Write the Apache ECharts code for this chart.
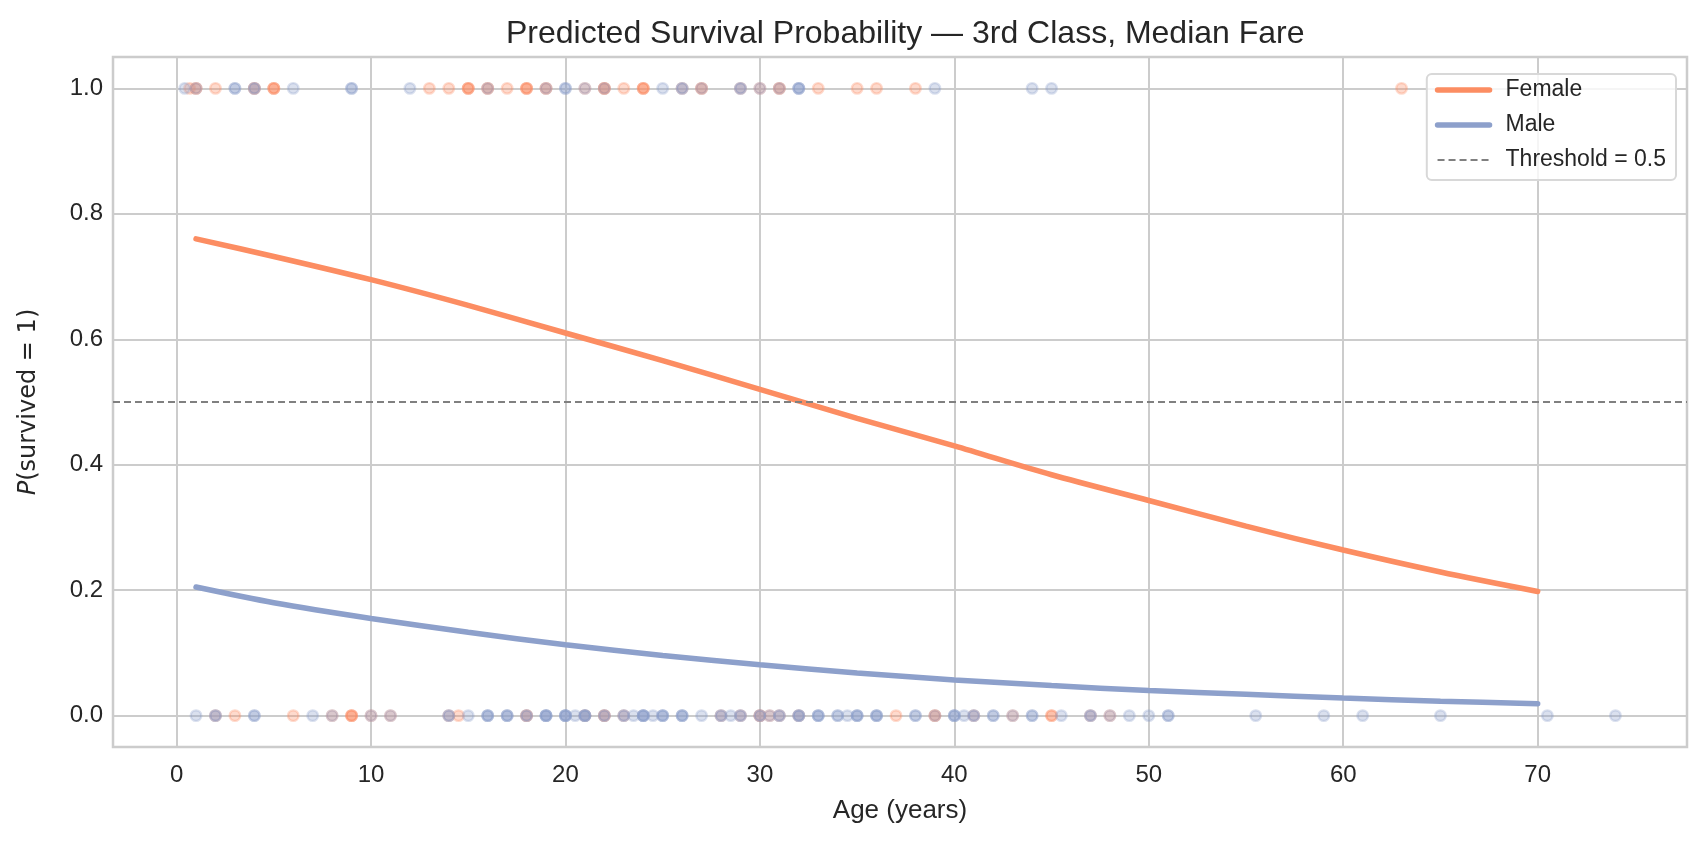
<!DOCTYPE html>
<html>
<head>
<meta charset="utf-8">
<title>Predicted Survival Probability</title>
<script src="https://cdn.jsdelivr.net/npm/echarts@6/dist/echarts.min.js"></script>
<style>
  html, body { margin: 0; padding: 0; background: #fff; }
  #chart { width: 1706px; height: 843px; }
</style>
</head>
<body>
<div id="chart"></div>
<script>
// observed passengers (3rd class), one entry per dot, repeated where dots stack
var femaleSurvivedAges = [0.67, 1, 1, 2, 4, 4, 5, 5, 5, 13, 14, 15, 15, 15, 16, 16, 17, 18, 18, 18,
    19, 19, 21, 22, 22, 22, 23, 24, 24, 24, 26, 27, 27, 29, 30, 31, 31, 33, 35, 36, 38, 63];
var maleSurvivedAges = [0.42, 1, 3, 3, 4, 4, 6, 9, 9, 12, 16, 19, 20, 20, 21, 22, 25, 26, 26, 27,
    29, 29, 30, 31, 32, 32, 32, 39, 44, 45];
var femaleDiedAges = [2, 3, 6, 8, 9, 9, 9, 10, 11, 14, 14.5, 18, 18, 21, 22, 22, 23, 28, 29, 30, 30,
    30.5, 31, 32, 37, 39, 39, 41, 43, 45, 45, 47, 48];
var maleDiedAges = [1, 2, 2, 4, 4, 7, 8, 10, 11, 14, 14, 15, 16, 16, 16, 17, 17, 17, 18, 18,
    19, 19, 19, 19, 20, 20, 20, 20, 20.5, 21, 21, 21, 21, 22, 22, 23, 23, 23.5,
    24, 24, 24, 24, 24.5, 25, 25, 25, 26, 26, 26, 27, 28, 28, 28.5, 29, 29, 30, 30, 30.5,
    31, 31, 32, 32, 32, 33, 33, 33, 34, 34, 34.5, 35, 35, 35, 36, 36, 36, 38, 38, 39,
    40, 40, 40, 40.5, 41, 41, 42, 42, 43, 44, 44, 45.5, 47, 47, 48, 49, 50, 51, 51,
    55.5, 59, 61, 65, 70.5, 74];

// fitted curves
var curveAges = [1, 5, 10, 15, 20, 25, 30, 35, 40, 45, 50, 55, 60, 65, 70];
var femaleCurve = [0.76, 0.732, 0.695, 0.654, 0.61, 0.566, 0.52, 0.474, 0.43, 0.384, 0.343, 0.302, 0.264, 0.229, 0.198];
var maleCurve = [0.205, 0.18, 0.155, 0.133, 0.113, 0.096, 0.081, 0.068, 0.057, 0.048, 0.040, 0.034, 0.028, 0.023, 0.019];

var xTicks = [0, 10, 20, 30, 40, 50, 60, 70];
var yTicks = [0, 0.2, 0.4, 0.6, 0.8, 1.0];
var threshold = 0.5;

var FEMALE = '#fc8d62';
var MALE = '#8da0cb';
var GREY = '#808080';
var TXT = '#262626';
var FONT = '"Liberation Sans", Arial, sans-serif';

function pts(ages, y) {
    return ages.map(function (a) { return [a, y]; });
}
function curve(vals) {
    return curveAges.map(function (a, i) { return [a, vals[i]]; });
}
function dots(name, color, data) {
    return {
        name: name,
        type: 'scatter',
        data: data,
        symbolSize: 10.5,
        silent: true,
        z: 2,
        itemStyle: { color: color, borderColor: color, borderWidth: 2.4, opacity: 0.32 }
    };
}

var chart = echarts.init(document.getElementById('chart'));
var option = {
    backgroundColor: '#fff',
    animation: false,
    title: {
        text: 'Predicted Survival Probability \u2014 3rd Class, Median Fare',
        left: 501,
        top: 13,
        textStyle: { fontFamily: FONT, fontSize: 32, fontWeight: 'normal', color: TXT }
    },
    legend: {
        data: [
            { name: 'Female', itemStyle: { opacity: 0 }, lineStyle: { width: 5.5, cap: 'round' } },
            { name: 'Male', itemStyle: { opacity: 0 }, lineStyle: { width: 5.5, cap: 'round' } },
            { name: 'Threshold = 0.5', itemStyle: { opacity: 0 }, lineStyle: { width: 2.2, type: [7, 4] } }
        ],
        orient: 'vertical',
        right: 30,
        top: 74,
        itemWidth: 52,
        itemHeight: 14,
        itemGap: 11,
        padding: [4, 10, 8, 8],
        backgroundColor: 'rgba(255,255,255,0.8)',
        borderColor: '#d8d8d8',
        borderWidth: 2,
        borderRadius: 5,
        textStyle: { fontFamily: FONT, fontSize: 23, color: TXT, lineHeight: 24, padding: [0, 0, 0, 11] }
    },
    grid: {
        left: 113,
        right: 19,
        top: 57,
        bottom: 96,
        show: true,
        borderColor: '#cccccc',
        borderWidth: 2.5
    },
    xAxis: {
        type: 'value',
        min: -3.27,
        max: 77.68,
        name: 'Age (years)',
        nameLocation: 'middle',
        nameGap: 51,
        nameTextStyle: { fontFamily: FONT, fontSize: 26, color: TXT },
        axisLine: { show: false },
        axisTick: { show: false, customValues: xTicks },
        axisLabel: { customValues: xTicks, margin: 16, fontFamily: FONT, fontSize: 24, color: TXT },
        splitLine: { show: true, lineStyle: { color: '#cccccc', width: 2 } }
    },
    yAxis: {
        type: 'value',
        min: -0.05,
        max: 1.05,
        name: '{i|P}(survived = 1)',
        nameLocation: 'middle',
        nameGap: 72,
        nameRotate: 90,
        nameTextStyle: {
            fontFamily: '"DejaVu Sans", sans-serif', fontSize: 24, color: TXT,
            rich: { i: { fontStyle: 'italic', fontFamily: '"DejaVu Sans", sans-serif', fontSize: 24, color: TXT } }
        },
        axisLine: { show: false },
        axisTick: { show: false, customValues: yTicks },
        axisLabel: {
            customValues: yTicks, margin: 10, fontFamily: FONT, fontSize: 24, color: TXT,
            formatter: function (v) { return v.toFixed(1); }
        },
        splitLine: { show: true, lineStyle: { color: '#cccccc', width: 2 } }
    },
    series: [
        dots('Female survived', FEMALE, pts(femaleSurvivedAges, 1)),
        dots('Female died', FEMALE, pts(femaleDiedAges, 0)),
        dots('Male survived', MALE, pts(maleSurvivedAges, 1)),
        dots('Male died', MALE, pts(maleDiedAges, 0)),
        {
            name: 'Threshold = 0.5',
            type: 'line',
            data: [],
            symbol: 'none',
            z: 3,
            lineStyle: { color: GREY, width: 2.2, type: [7, 4] },
            itemStyle: { color: GREY },
            markLine: {
                silent: true,
                symbol: 'none',
                label: { show: false },
                lineStyle: { color: GREY, width: 2.2, type: [7, 4] },
                data: [{ yAxis: threshold }]
            }
        },
        {
            name: 'Female',
            type: 'line',
            data: curve(femaleCurve),
            smooth: 0.3,
            symbol: 'none',
            z: 4,
            itemStyle: { color: FEMALE },
            lineStyle: { color: FEMALE, width: 5.5, cap: 'round' }
        },
        {
            name: 'Male',
            type: 'line',
            data: curve(maleCurve),
            smooth: 0.3,
            symbol: 'none',
            z: 4,
            itemStyle: { color: MALE },
            lineStyle: { color: MALE, width: 5.5, cap: 'round' }
        }
    ]
};
chart.setOption(option);
</script>
</body>
</html>
